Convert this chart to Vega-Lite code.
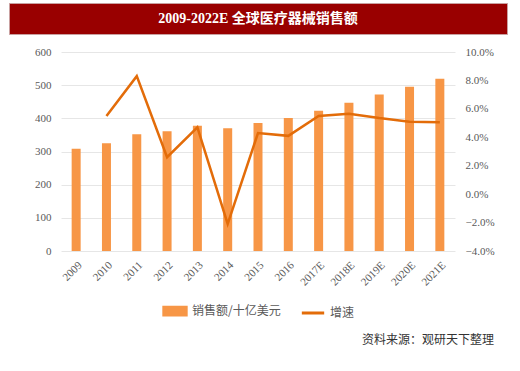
{
  "$schema": "https://vega.github.io/schema/vega-lite/v6.json",
  "background": "white",
  "padding": {"left": 8, "top": 2, "right": 0, "bottom": 0},
  "spacing": 18,
  "center": true,
  "bounds": "flush",
  "config": {"view": {"stroke": null}, "legend": {"layout": {"bottom": {"anchor": "middle"}}}},
  "resolve": {"scale": {"color": "independent"}, "legend": {"color": "independent"}},
  "vconcat": [
    {
      "width": 498,
      "height": 31,
      "view": {"fill": "#990000", "stroke": "#c9a0a0"},
      "data": {"values": [{"t": "2009-2022E 全球医疗器械销售额"}]},
      "mark": {"type": "text", "color": "white", "font": "Liberation Serif, Noto Sans CJK SC", "fontSize": 14, "fontWeight": "bold", "baseline": "middle", "align": "center"},
      "encoding": {"text": {"field": "t"}}
    },
    {
      "width": 394,
      "height": 199,
      "data": {"values": [
        {"year": "2009", "sales": 308, "growth": null},
        {"year": "2010", "sales": 325, "growth": 5.5},
        {"year": "2011", "sales": 352, "growth": 8.3},
        {"year": "2012", "sales": 361, "growth": 2.6},
        {"year": "2013", "sales": 378, "growth": 4.7},
        {"year": "2014", "sales": 370, "growth": -2.1},
        {"year": "2015", "sales": 386, "growth": 4.3},
        {"year": "2016", "sales": 401, "growth": 4.1},
        {"year": "2017E", "sales": 423, "growth": 5.5},
        {"year": "2018E", "sales": 447, "growth": 5.65},
        {"year": "2019E", "sales": 472, "growth": 5.35},
        {"year": "2020E", "sales": 495, "growth": 5.1},
        {"year": "2021E", "sales": 519, "growth": 5.05}
      ]},
      "title": {"text": "资料来源：观研天下整理", "orient": "bottom", "anchor": "end", "frame": "bounds", "font": "Noto Sans CJK SC", "fontSize": 12, "fontWeight": "normal", "color": "#333333", "offset": 14},
      "encoding": {
        "x": {"field": "year", "type": "ordinal", "sort": null, "title": null,
          "axis": {"labelAngle": -45, "labelFont": "Liberation Serif", "labelFontSize": 11, "labelColor": "#595959", "ticks": false, "domain": false, "labelPadding": 8}}
      },
      "layer": [
        {
          "mark": {"type": "bar", "width": {"band": 0.33}},
          "encoding": {
            "y": {"field": "sales", "type": "quantitative", "title": null,
              "scale": {"domain": [0, 600]},
              "axis": {"values": [0, 100, 200, 300, 400, 500, 600], "labelFont": "Liberation Serif", "labelFontSize": 11, "labelColor": "#595959", "ticks": false, "domain": false, "gridColor": "#e6e6e6", "labelPadding": 10}},
            "color": {"datum": "销售额/十亿美元", "type": "nominal",
              "scale": {"domain": ["销售额/十亿美元", "增速"], "range": ["#F79646", "#E36C09"]},
              "legend": {"orient": "bottom", "direction": "horizontal", "title": null, "labelFont": "Noto Sans CJK SC", "labelFontSize": 12, "labelColor": "#595959", "symbolSize": 500, "columnPadding": 14, "offset": 10,
                "encode": {"symbols": {"update": {
                  "shape": {"signal": "datum.value === '增速' ? 'stroke' : 'M-1,-0.35L1,-0.35L1,0.35L-1,0.35Z'"},
                  "fill": {"signal": "datum.value === '增速' ? 'transparent' : '#F79646'"},
                  "stroke": {"signal": "datum.value === '增速' ? '#E36C09' : 'transparent'"},
                  "strokeWidth": {"value": 3}
                }}}}
            }
          }
        },
        {
          "mark": {"type": "line", "strokeWidth": 2.5},
          "encoding": {
            "y": {"field": "growth", "type": "quantitative", "title": null,
              "scale": {"domain": [-4, 10]},
              "axis": {"orient": "right", "values": [-4, -2, 0, 2, 4, 6, 8, 10], "labelExpr": "format(datum.value, '.1f') + '%'", "labelFont": "Liberation Serif", "labelFontSize": 11, "labelColor": "#595959", "ticks": false, "domain": false, "grid": false, "labelPadding": 10}},
            "color": {"datum": "增速", "type": "nominal"}
          }
        }
      ],
      "resolve": {"scale": {"y": "independent"}}
    }
  ]
}
